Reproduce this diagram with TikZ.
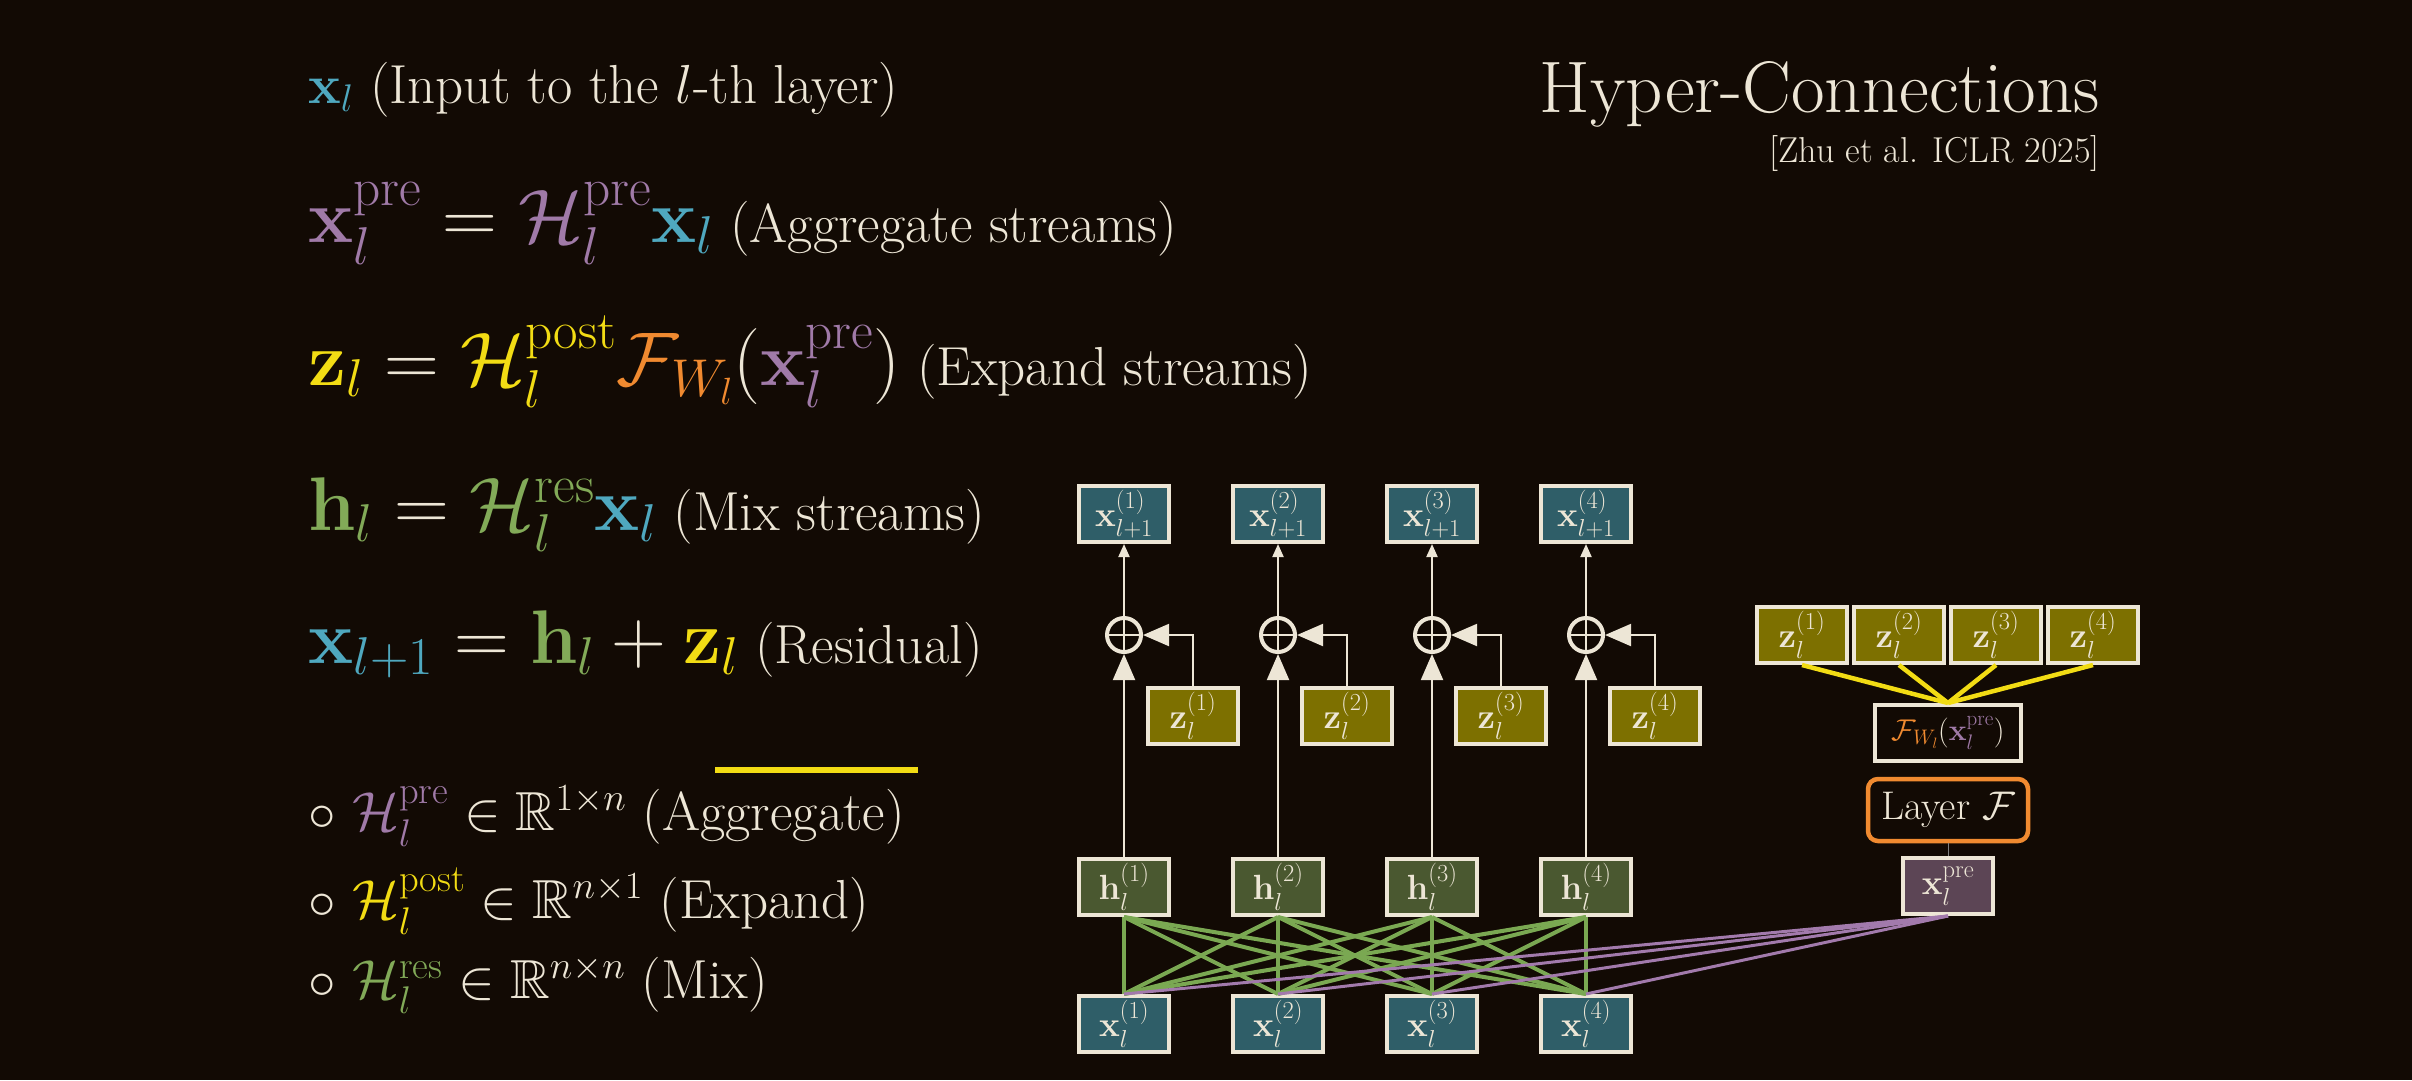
\RequirePackage{fix-cm}
\documentclass[tikz,border=0pt]{standalone}
\usepackage{amsmath,amssymb}
\DeclareFontFamily{U}{msb}{}
\DeclareFontShape{U}{msb}{m}{n}{<-6> msbm5 <6-8> msbm7 <8-> msbm10}{}
\usetikzlibrary{arrows.meta}
\definecolor{bg}{HTML}{120A04}
\definecolor{cream}{HTML}{EDE6D6}
\definecolor{tealf}{HTML}{2F5E68}
\definecolor{olivef}{HTML}{7D7000}
\definecolor{greenf}{HTML}{4A5830}
\definecolor{purplef}{HTML}{5C4555}
\definecolor{cx}{HTML}{4FA8BF}
\definecolor{cp}{HTML}{A07AA8}
\definecolor{cy}{HTML}{F2DC14}
\definecolor{co}{HTML}{F08A30}
\definecolor{cg}{HTML}{82AA58}
\definecolor{lg}{HTML}{7AA852}
\definecolor{lp}{HTML}{A27AAC}
\newcommand{\bx}{\mathbf{x}}
\newcommand{\bz}{\mathbf{z}}
\newcommand{\bh}{\mathbf{h}}
\newcommand{\HH}{\mathcal{H}}
\newcommand{\FF}{\mathcal{F}}
\newcommand{\BM}[1]{{\fontsize{76}{86}\selectfont$#1$}}
\begin{document}
\begin{tikzpicture}[x=1pt,y=1pt,
  big/.style={text=cream,anchor=base west,inner sep=0,font=\fontsize{55}{64}\selectfont},
  small/.style={text=cream,anchor=base west,inner sep=0,font=\fontsize{55}{64}\selectfont},
  box/.style={draw=cream,line width=4pt,minimum width=90pt,minimum height=56pt,inner sep=0,text=cream,font=\fontsize{35}{38}\selectfont},
  xb/.style={box,fill=tealf},
  zb/.style={box,fill=olivef},
  hb/.style={box,fill=greenf},
  op/.style={circle,draw=cream,line width=4pt,minimum size=34pt,inner sep=0},
  arr/.style={draw=cream,line width=2pt,-{Triangle[length=26pt,width=22pt]}},
  sarr/.style={draw=cream,line width=2pt,-{Triangle[length=13pt,width=11pt]}},
  gl/.style={draw=lg,line width=4pt},
  pl/.style={draw=lp,line width=3pt},
  yl/.style={draw=cy,line width=4.5pt}]
\fill[bg] (0,0) rectangle (2412,-1080);
\useasboundingbox (0,0) rectangle (2412,-1080);

% left text
\node[big] (t1) at (308,-103) {$\color{cx}\bx_l$ (Input to the $l$-th layer)};
\node[big] (t2) at (308,-242) {\BM{\color{cp}\bx_l^{\text{pre}}\color{cream} = \color{cp}\HH_l^{\text{pre}}\color{cx}\bx_l} (Aggregate streams)};
\node[big] (t3) at (308,-385) {\BM{\color{cy}\bz_l\color{cream} = \color{cy}\HH_l^{\text{post}}\color{co}\FF_{W_l}\color{cream}(\color{cp}\bx_l^{\text{pre}}\color{cream})} (Expand streams)};
\node[big] (t4) at (308,-530) {\BM{\color{cg}\bh_l\color{cream} = \color{cg}\HH_l^{\text{res}}\color{cx}\bx_l} (Mix streams)};
\node[big] (t5) at (308,-663) {\BM{\color{cx}\bx_{l+1}\color{cream} = \color{cg}\bh_l\color{cream} + \color{cy}\bz_l} (Residual)};
\node[small] (b1) at (308,-830) {$\circ$ $\color{cp}\HH_l^{\text{pre}}\color{cream}\in\mathbb{R}^{1\times n}$ (Aggregate)};
\node[small] (b2) at (308,-918) {$\circ$ $\color{cy}\HH_l^{\text{post}}\color{cream}\in\mathbb{R}^{n\times 1}$ (Expand)};
\node[small] (b3) at (308,-998) {$\circ$ $\color{cg}\HH_l^{\text{res}}\color{cream}\in\mathbb{R}^{n\times n}$ (Mix)};
\draw[cy,line width=6pt] (715,-770) -- (918,-770);

\node[text=cream,anchor=base east,inner sep=0,font=\fontsize{73}{80}\selectfont] (title) at (2100,-112) {Hyper-Connections};
\node[text=cream,anchor=base east,inner sep=0,font=\fontsize{36}{40}\selectfont] (cite) at (2100,-162) {[Zhu et al. ICLR 2025]};

% columns
\foreach \i/\cx in {1/1124,2/1278,3/1432,4/1586}{
  \node[xb] (top\i) at (\cx,-514) {$\bx_{l+1}^{(\i)}$};
  \node[op] (o\i) at (\cx,-635) {};
  \draw[cream,line width=1.5pt] (o\i.north) -- (o\i.south) (o\i.west) -- (o\i.east);
  \node[zb] (z\i) at (\cx+69,-716) {$\bz_l^{(\i)}$};
  \node[hb] (h\i) at (\cx,-887) {$\bh_l^{(\i)}$};
  \node[xb] (x\i) at (\cx,-1024) {$\bx_l^{(\i)}$};
  \draw[arr] (h\i.north) -- (o\i.south);
  \draw[arr] (z\i.north) |- (o\i.east);
  \draw[sarr] (o\i.north) -- (top\i.south);
}
\foreach \i in {1,...,4}{\foreach \j in {1,...,4}{\draw[gl] (h\i.south) -- (x\j.north);}}

% right part
\foreach \i/\cx in {1/1802,2/1899,3/1996,4/2093}{
  \node[zb,minimum width=90pt] (rz\i) at (\cx,-635) {$\bz_l^{(\i)}$};
}
\node[box,fill=bg,minimum width=146pt,font=\fontsize{30}{34}\selectfont] (F) at (1948,-733) {$\color{co}\FF_{W_l}\color{cream}(\color{cp}\bx_l^{\text{pre}}\color{cream})$};
\node[draw=co,line width=4.5pt,rounded corners=10pt,minimum width=160pt,minimum height=62pt,text=cream,font=\fontsize{40}{44}\selectfont] (L) at (1948,-810) {Layer $\FF$};
\node[box,fill=purplef] (xp) at (1948,-886) {$\bx_l^{\text{pre}}$};
\draw[gray,line width=1pt] (L.south) -- (xp.north);
\foreach \i in {1,...,4}{\draw[yl] (F.north) -- (rz\i.south);}
\foreach \j in {1,...,4}{\draw[pl] (xp.south) -- (x\j.north);}
\end{tikzpicture}
\end{document}
